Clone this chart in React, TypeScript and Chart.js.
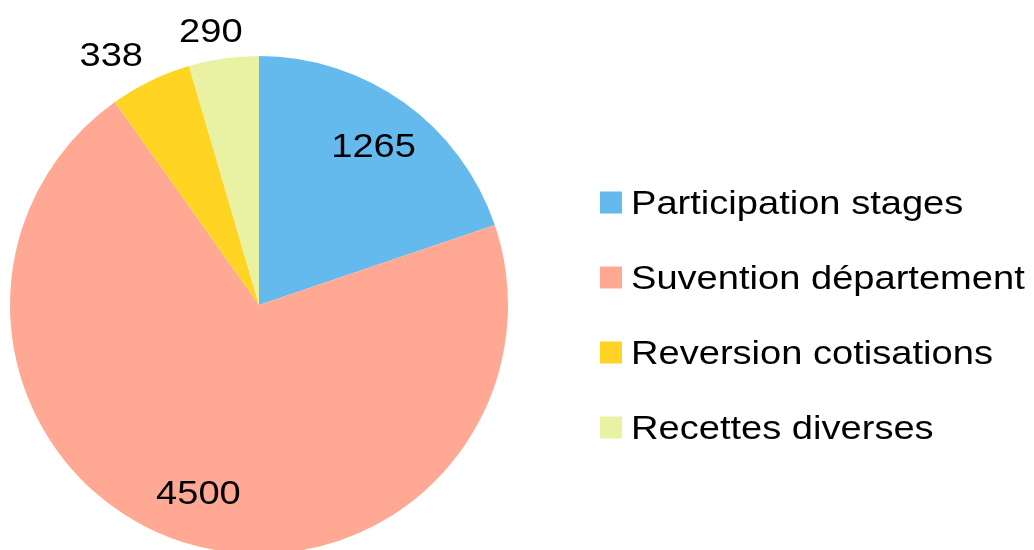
import React, { useEffect, useRef } from "react";
import { Chart, registerables } from "chart.js";

Chart.register(...registerables);

const categories = [
  "Participation stages",
  "Suvention département",
  "Reversion cotisations",
  "Recettes diverses",
];
const values = [1265, 4500, 338, 290];
const colors = ["#64BAED", "#FFA994", "#FFD423", "#E9F1A3"];

const FONT_SIZE = 34;
const FONT = `${FONT_SIZE}px "Liberation Sans", Arial, sans-serif`;
const SCALE_X = 1.12;

const clamp = (v: number) => Math.max(-1, Math.min(1, v));

function drawStretched(ctx: CanvasRenderingContext2D, text: string, x: number, y: number, align: CanvasTextAlign) {
  ctx.save();
  ctx.translate(x, y);
  ctx.scale(SCALE_X, 1);
  ctx.textAlign = align;
  ctx.textBaseline = "alphabetic";
  ctx.fillText(text, 0, 0);
  ctx.restore();
}

const labelPlugin = {
  id: "sliceLabels",
  afterDatasetsDraw(chart: any) {
    const ctx: CanvasRenderingContext2D = chart.ctx;
    const meta = chart.getDatasetMeta(0);
    const data: number[] = chart.data.datasets[0].data;
    const total = data.reduce((a, b) => a + b, 0);
    ctx.save();
    ctx.font = FONT;
    ctx.fillStyle = "#000";
    const digitH = 0.716 * FONT_SIZE;
    meta.data.forEach((arc: any, i: number) => {
      const p = arc.getProps(["x", "y", "startAngle", "endAngle", "outerRadius"], true);
      const mid = (p.startAngle + p.endAngle) / 2;
      const ux = Math.cos(mid);
      const uy = Math.sin(mid);
      const text = String(data[i]);
      const w = ctx.measureText(text).width * SCALE_X;
      let cx: number, cy: number;
      if (data[i] / total > 0.1) {
        const r = p.outerRadius * 0.79;
        cx = p.x + r * ux;
        cy = p.y + r * uy;
      } else {
        const r = p.outerRadius + 17;
        cx = p.x + r * ux + (w / 2) * clamp(2.3 * ux);
        cy = p.y + r * uy + (digitH / 2) * clamp(2.3 * uy);
      }
      drawStretched(ctx, text, cx, cy + digitH / 2, "center");
    });
    ctx.restore();
  },
};

const legendPlugin = {
  id: "customLegend",
  afterDraw(chart: any) {
    const ctx: CanvasRenderingContext2D = chart.ctx;
    const labels: string[] = chart.data.labels;
    const bg: string[] = chart.data.datasets[0].backgroundColor;
    ctx.save();
    ctx.font = FONT;
    const boxX = 600;
    const box = 22;
    const firstCenter = 202.5;
    const step = 75;
    labels.forEach((lab, i) => {
      const cy = firstCenter + i * step;
      ctx.fillStyle = bg[i];
      ctx.fillRect(boxX, cy - box / 2, box, box);
      ctx.fillStyle = "#000";
      drawStretched(ctx, lab, 631, cy + (0.716 * FONT_SIZE) / 2 - 0.5, "left");
    });
    ctx.restore();
  },
};

export default function App() {
  const ref = useRef<HTMLCanvasElement | null>(null);
  useEffect(() => {
    if (!ref.current) return;
    const chart = new Chart(ref.current, {
      type: "pie",
      data: {
        labels: categories,
        datasets: [
          {
            data: values,
            backgroundColor: colors,
            borderWidth: 0,
          },
        ],
      },
      options: {
        responsive: false,
        animation: false,
        layout: { padding: { left: 10, right: 526, top: 56, bottom: 56 } },
        plugins: {
          legend: { display: false },
          tooltip: { enabled: false },
        },
      },
      plugins: [labelPlugin, legendPlugin],
    });
    return () => chart.destroy();
  }, []);
  return (
    <div
      style={{
        position: "absolute",
        left: 0,
        top: 0,
        width: 1034,
        height: 550,
        overflow: "hidden",
        background: "#fff",
      }}
    >
      <canvas ref={ref} width={1034} height={610} style={{ width: 1034, height: 610, display: "block" }} />
    </div>
  );
}
